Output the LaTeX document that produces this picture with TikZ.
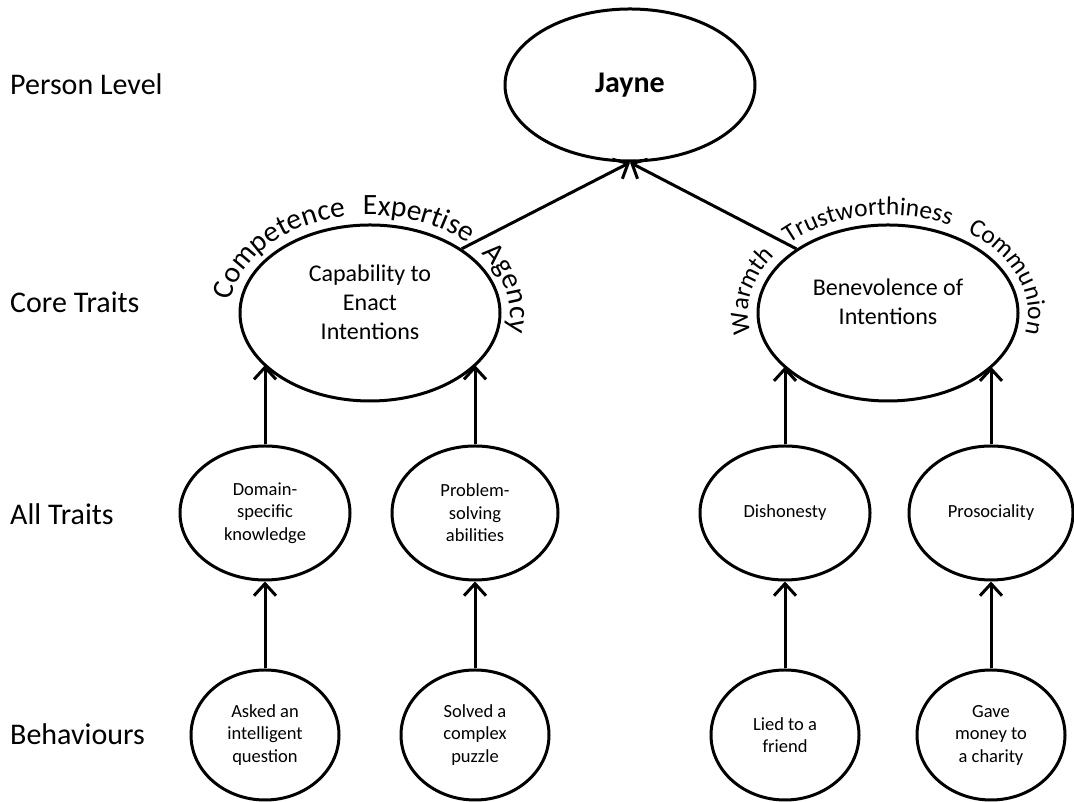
\documentclass[tikz,border=0pt]{standalone}
\usepackage{fontspec}
\setmainfont{Carlito}
\usepackage{tikz}
\usetikzlibrary{arrows.meta,shapes.geometric,decorations.text}

\newcommand\capfont{\fontsize{29.5}{29.5}\selectfont}
\newcommand\benfont{\fontsize{25.5}{25.5}\selectfont}

\begin{document}
\begin{tikzpicture}
[
x=1pt, y=1pt,
level/.style={anchor=base west, inner sep=0pt, font=\fontsize{30}{36}\selectfont},
person/.style={ellipse, draw=black, line width=3pt, minimum width=250pt, minimum height=152pt, inner sep=0pt, font=\fontsize{30}{36}\selectfont\bfseries},
core/.style={ellipse, draw=black, line width=3pt, minimum width=260pt, minimum height=176pt, inner sep=0pt, align=center, text depth=22pt, font=\fontsize{24}{29}\selectfont},
trait/.style={ellipse, draw=black, line width=3pt, minimum height=134pt, inner sep=0pt, align=center, font=\fontsize{18.5}{22.5}\selectfont},
behav/.style={ellipse, draw=black, line width=3pt, minimum width=148pt, minimum height=130pt, inner sep=0pt, align=center, font=\fontsize{18.5}{22.5}\selectfont},
arclabel/.style={decorate, decoration={text along path, text align={fit to path stretching spaces}}},
link/.style={line width=3pt, -{Straight Barb[length=12pt, width=22pt]}}
]
\useasboundingbox (0,0) rectangle (1074,802);

%Levels
\node[level] (lperson) at (10,707) {Person Level};
\node[level] (lcore)   at (10,489) {Core Traits};
\node[level] (lall)    at (10,277) {All Traits};
\node[level] (lbehav)  at (10,57)  {Behaviours};

%Nodes
\node[person] (jayne) at (630,717) {Jayne};
\node[core]   (cap)   at (370,489) {Capability to\\Enact\\Intentions};
\node[core]   (ben)   at (888,489) {Benevolence of\\Intentions};

\node[trait, minimum width=170pt] (dom)  at (265,289) {Domain-\\specific\\knowledge};
\node[trait, minimum width=166pt] (prob) at (475,289) {Problem-\\solving\\abilities};
\node[trait, minimum width=170pt] (dish) at (785,289) {Dishonesty};
\node[trait, minimum width=164pt] (pros) at (991,289) {Prosociality};

\node[behav] (ask)  at (265,67) {Asked an\\intelligent\\question};
\node[behav] (solv) at (475,67) {Solved a\\complex\\puzzle};
\node[behav] (lied) at (785,67) {Lied to a\\friend};
\node[behav] (gave) at (991,67) {Gave\\money to\\a charity};

%Arc labels
\path[arclabel, decoration={text={|\capfont|Competence Expertise Agency}}]
  (cap.center) ++(173:140 and 98) arc[start angle=173, end angle=-11, x radius=140, y radius=98];
\path[arclabel, decoration={text={|\benfont|Warmth Trustworthiness Communion}}]
  (ben.center) ++(192:140 and 98) arc[start angle=192, end angle=-12, x radius=140, y radius=98];

%Lines
\draw[link] (cap.35)  -- (jayne.south);
\draw[link] (ben.145) -- (jayne.south);
\draw[link] (dom.north)  -- (dom.north |- cap.206);
\draw[link] (prob.north) -- (prob.north |- cap.334);
\draw[link] (dish.north) -- (dish.north |- ben.207);
\draw[link] (pros.north) -- (pros.north |- ben.333);
\path[link]
          (ask)   edge  (dom)
          (solv)  edge  (prob)
          (lied)  edge  (dish)
          (gave)  edge  (pros);

\end{tikzpicture}
\end{document}
